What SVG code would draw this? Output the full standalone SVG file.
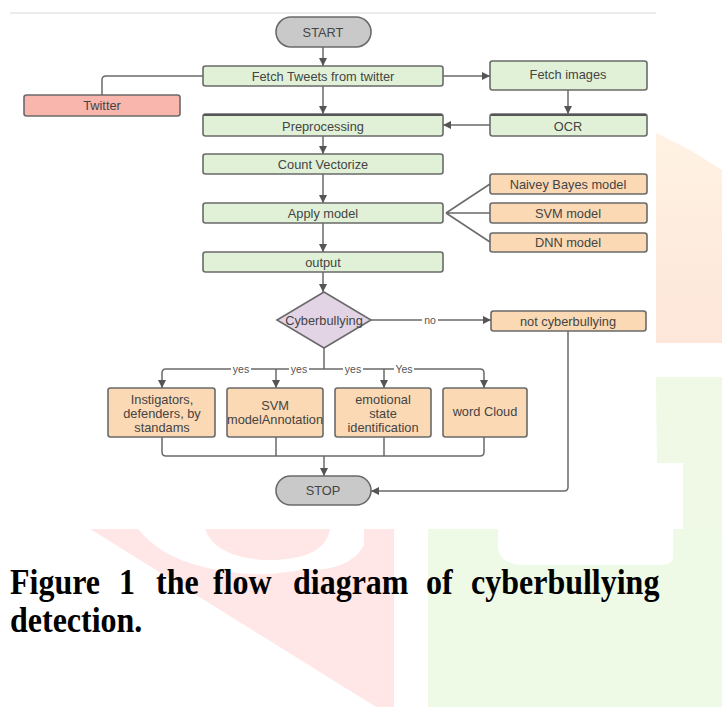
<svg xmlns="http://www.w3.org/2000/svg" width="722" height="707" viewBox="0 0 722 707">
<style>
.n{stroke:#6a6a6a;stroke-width:1.6}
.g{fill:#e1f1d7}
.o{fill:#fbd9b4}
.t{font-family:"Liberation Sans",Arial,sans-serif;font-size:12.8px;fill:#444;text-anchor:middle;dominant-baseline:central}
.l{font-family:"Liberation Sans",Arial,sans-serif;font-size:10.5px;fill:#555;text-anchor:middle;dominant-baseline:central}
.c{fill:none;stroke:#6a6a6a;stroke-width:1.5}
.cap{font-family:"Liberation Serif","Times New Roman",serif;font-weight:bold;font-size:32px;fill:#000}
</style>
<defs>
<marker id="a" markerUnits="userSpaceOnUse" markerWidth="8" markerHeight="8" refX="8" refY="4" orient="auto">
<path d="M0,0 L8,4 L0,8 z" fill="#555"/>
</marker>
<linearGradient id="pg" x1="0" y1="0" x2="0" y2="1">
<stop offset="0" stop-color="#fff2e3"/><stop offset="1" stop-color="#fde6da"/>
</linearGradient>
</defs>
<rect width="722" height="707" fill="#fff"/>
<g id="watermark">
<line x1="10" y1="13" x2="656" y2="13" stroke="#ececec" stroke-width="2"/>
<polygon points="656,133 690,150 722,170 722,343 656,343" fill="url(#pg)"/>
<path d="M656,377 H722 V529 H683 V463 H657 Z" fill="#eff9e5"/>
<polygon points="90,529 394,529 394,707 376,707" fill="#ffe7e7"/>
<path d="M138,529 H364 V545 Q350,572 300,570 Q250,580 200,566 Q160,556 138,529 Z" fill="#fff"/>
<path d="M205,529 H330 Q325,560 268,560 Q215,558 205,529 Z" fill="#ffe7e7"/>
<polygon points="428,529 722,529 722,707 428,707" fill="#eefae5"/>
<path d="M498,529 H673 V556 Q673,565 660,565 H525 Q498,565 498,545 Z" fill="#fff"/>
</g>
<g id="connectors">
<path class="c" d="M323,47 V66" marker-end="url(#a)"/>
<path class="c" d="M323,86 V114" marker-end="url(#a)"/>
<path class="c" d="M323,136 V154" marker-end="url(#a)"/>
<path class="c" d="M323,174 V203" marker-end="url(#a)"/>
<path class="c" d="M323,223 V252" marker-end="url(#a)"/>
<path class="c" d="M323,272 V292" marker-end="url(#a)"/>
<path class="c" d="M443,76 H490" marker-end="url(#a)"/>
<path class="c" d="M568,90 V114" marker-end="url(#a)"/>
<path class="c" d="M490,125 H443" marker-end="url(#a)"/>
<path class="c" d="M203,76 H106 Q102,76 102,80 V95"/>
<path class="c" d="M446,213 L490,184 M446,213 H490 M446,213 L490,242"/>
<path class="c" d="M371,320 H491" marker-end="url(#a)"/>
<path class="c" d="M324,348 V369"/>
<path class="c" d="M324,369 H166 Q162,369 162,373 V388" marker-end="url(#a)"/>
<path class="c" d="M324,369 H480 Q484,369 484,373 V388" marker-end="url(#a)"/>
<path class="c" d="M276,369 V388" marker-end="url(#a)"/>
<path class="c" d="M384,369 V388" marker-end="url(#a)"/>
<path class="c" d="M162,437 V452 Q162,456 166,456 H480 Q484,456 484,452 V437"/>
<path class="c" d="M276,437 V456 M384,437 V456"/>
<path class="c" d="M324,456 V476" stroke-width="2.5" marker-end="url(#a)"/>
<path class="c" d="M568,331 V487 Q568,491 564,491 H371" marker-end="url(#a)"/>
<rect x="422" y="314" width="16" height="12" fill="#fff"/>
<text class="l" x="430" y="320">no</text>
<rect x="231" y="364" width="20" height="10" fill="#fff"/>
<text class="l" x="241" y="369">yes</text>
<rect x="289" y="364" width="20" height="10" fill="#fff"/>
<text class="l" x="299" y="369">yes</text>
<rect x="343" y="364" width="20" height="10" fill="#fff"/>
<text class="l" x="353" y="369">yes</text>
<rect x="394" y="364" width="20" height="10" fill="#fff"/>
<text class="l" x="404" y="369">Yes</text>
</g>
<g id="start"><rect class="n" x="276" y="17" width="95" height="30" rx="15" fill="#c9c9c9" stroke-width="2"/><text class="t" x="323" y="32">START</text></g>
<g id="fetch-tweets"><rect class="n g" x="203" y="66" width="240" height="20" rx="2.5"/><text class="t" x="323" y="76">Fetch Tweets from twitter</text></g>
<g id="twitter"><rect class="n" x="24" y="95" width="156" height="21" rx="2.5" fill="#f8b6ad"/><text class="t" x="102" y="105.5">Twitter</text></g>
<g id="fetch-images"><rect class="n g" x="490" y="61" width="157" height="29" rx="2.5"/><text class="t" x="568" y="74">Fetch images</text></g>
<g id="preprocessing"><rect class="n g" x="203" y="114" width="240" height="22" rx="2.5"/><line x1="204" y1="115" x2="442" y2="115" stroke="#555" stroke-width="2"/><text class="t" x="323" y="126">Preprocessing</text></g>
<g id="ocr"><rect class="n g" x="490" y="114" width="157" height="22" rx="2.5"/><line x1="491" y1="115" x2="646" y2="115" stroke="#555" stroke-width="2"/><text class="t" x="568" y="126">OCR</text></g>
<g id="count-vectorize"><rect class="n g" x="203" y="154" width="240" height="20" rx="2.5"/><text class="t" x="323" y="164">Count Vectorize</text></g>
<g id="naive-bayes"><rect class="n o" x="490" y="174" width="157" height="20" rx="2.5"/><text class="t" x="568" y="184">Naivey Bayes model</text></g>
<g id="apply-model"><rect class="n g" x="203" y="203" width="240" height="20" rx="2.5"/><text class="t" x="323" y="213">Apply model</text></g>
<g id="svm-model"><rect class="n o" x="490" y="203" width="157" height="20" rx="2.5"/><text class="t" x="568" y="213">SVM model</text></g>
<g id="dnn-model"><rect class="n o" x="490" y="233" width="157" height="19" rx="2.5"/><text class="t" x="568" y="242.5">DNN model</text></g>
<g id="output"><rect class="n g" x="203" y="252" width="240" height="20" rx="2.5"/><text class="t" x="323" y="262">output</text></g>
<g id="cyberbullying"><polygon class="n" points="324,292 371,320 324,348 277,320" fill="#e2d4e4"/><text class="t" x="324" y="320">Cyberbullying</text></g>
<g id="not-cyberbullying"><rect class="n o" x="491" y="311" width="155" height="20" rx="2.5"/><text class="t" x="568" y="321">not cyberbullying</text></g>
<g id="instigators"><rect class="n o" x="108" y="388" width="107" height="49" rx="2.5"/><text class="t" x="162" y="399">Instigators,</text><text class="t" x="162" y="413">defenders, by</text><text class="t" x="162" y="427">standams</text></g>
<g id="svm-annotation"><rect class="n o" x="227" y="388" width="96" height="49" rx="2.5"/><text class="t" x="275" y="405">SVM</text><text class="t" x="275" y="419">modelAnnotation</text></g>
<g id="emotional"><rect class="n o" x="335" y="388" width="96" height="49" rx="2.5"/><text class="t" x="383" y="399">emotional</text><text class="t" x="383" y="413">state</text><text class="t" x="383" y="427">identification</text></g>
<g id="word-cloud"><rect class="n o" x="443" y="388" width="84" height="49" rx="2.5"/><text class="t" x="485" y="411">word Cloud</text></g>
<g id="stop"><rect class="n" x="276" y="476" width="95" height="29" rx="14.5" fill="#c9c9c9" stroke-width="2"/><text class="t" x="323" y="490.5">STOP</text></g>
<g id="caption">
<text class="cap" transform="translate(0,594) scale(1,1.1)" y="0"><tspan x="10">Figure</tspan><tspan x="119">1</tspan><tspan x="156">the</tspan><tspan x="213">flow</tspan><tspan x="293">diagram</tspan><tspan x="426">of</tspan><tspan x="471">cyberbullying</tspan></text>
<text class="cap" transform="translate(0,632) scale(1,1.1)" x="10" y="0">detection.</text>
</g>
</svg>
